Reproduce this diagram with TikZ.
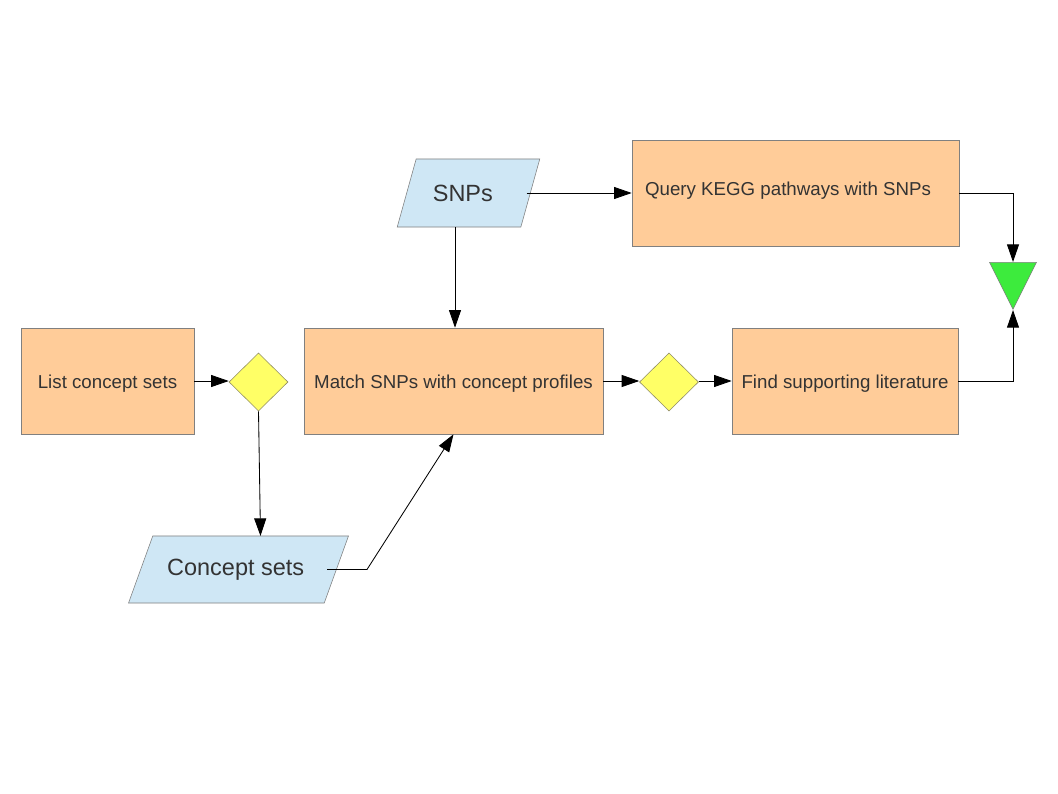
\documentclass[tikz,border=0pt]{standalone}
\usepackage{fontspec}
\setmainfont{Liberation Sans}
\usepackage{tikz}
\usetikzlibrary{shapes, arrows.meta, calc, positioning}
\definecolor{boxfill}{HTML}{FFCC99}
\definecolor{datafill}{HTML}{CFE7F5}
\definecolor{decfill}{HTML}{FFFF66}
\definecolor{endfill}{HTML}{3DEB3D}
\definecolor{txt}{HTML}{333333}
\tikzset{
    process/.style = {rectangle, draw=gray, fill=boxfill, minimum height=2.65cm, text=txt, text height=13pt, text depth=2.8pt, font=\fontsize{13.3}{16}\selectfont},
    data/.style = {trapezium, trapezium stretches=true, draw=gray, fill=datafill, text=txt, font=\fontsize{16.7}{20}\selectfont},
    decision/.style = {diamond, draw=gray!70!olive, fill=decfill, minimum width=1.475cm, minimum height=1.45cm, inner sep=0pt},
    merge/.style = {isosceles triangle, isosceles triangle stretches, shape border rotate=270, draw=gray, fill=endfill, minimum width=1.175cm, minimum height=1.175cm, inner sep=0pt},
    arr/.style = {-{Triangle[length=0.44cm, width=0.3cm]}, line width=0.6pt}
}
\begin{document}
\begin{tikzpicture}[x=0.025cm, y=-0.025cm]
    \fill[white] (0,0) rectangle (1058,794);
    \useasboundingbox (0,0) rectangle (1058,794);
    % inputs
    \node [data, trapezium left angle=68, trapezium right angle=112, minimum width=3.575cm, minimum height=1.7cm] (snps) at (468.5,193) {\hspace{-8pt}SNPs};
    \node [data, trapezium left angle=57, trapezium right angle=123, minimum width=5.5cm, minimum height=1.675cm] (csets) at (238.5,569.5) {\hspace{-4pt}Concept sets};
    % steps
    \node [process, minimum width=8.175cm, text height=9.5pt, text depth=5.8pt] (query) at (795.5,193) {Query KEGG pathways with SNPs\kern10.6pt};
    \node [process, minimum width=4.325cm] (list) at (107.5,381) {List concept sets};
    \node [process, minimum width=7.475cm] (match) at (453.5,381) {Match SNPs with concept profiles};
    \node [process, minimum width=5.65cm] (find) at (845,381) {Find supporting literature};
    \node [decision] (dec1) at (258.5,382) {};
    \node [decision] (dec2) at (669,382) {};
    \node [merge, anchor=north] (done) at (1013,262) {};
    % mid points of the slanted sides
    \coordinate (snpsout) at ($(snps.center)+(-13.5,34)$);
    \coordinate (snpsright) at ($(snps.center)+(58,0)$);
    \coordinate (csetsin) at ($(csets.center)+(22,-33.5)$);
    \coordinate (csetsright) at ($(csets.center)+(88.5,0)$);

    \draw [arr] (snpsright) -- (query.west);
    \draw [arr] (snpsout) -- (snpsout |- match.north);
    \draw [arr] (list.east) -- (dec1.west |- list.east);
    \draw [arr] (dec1.south) -- (csetsin);
    \draw [arr] (csetsright) -- ++(40,0) -- (match.south);
    \draw [arr] (match.east) -- (dec2.west |- match.east);
    \draw [arr] (dec2.east |- find.west) -- (find.west);
    \draw [arr] (query.east) -| (done.north);
    \draw [arr] (find.east) -| (done.south);
\end{tikzpicture}
\end{document}
